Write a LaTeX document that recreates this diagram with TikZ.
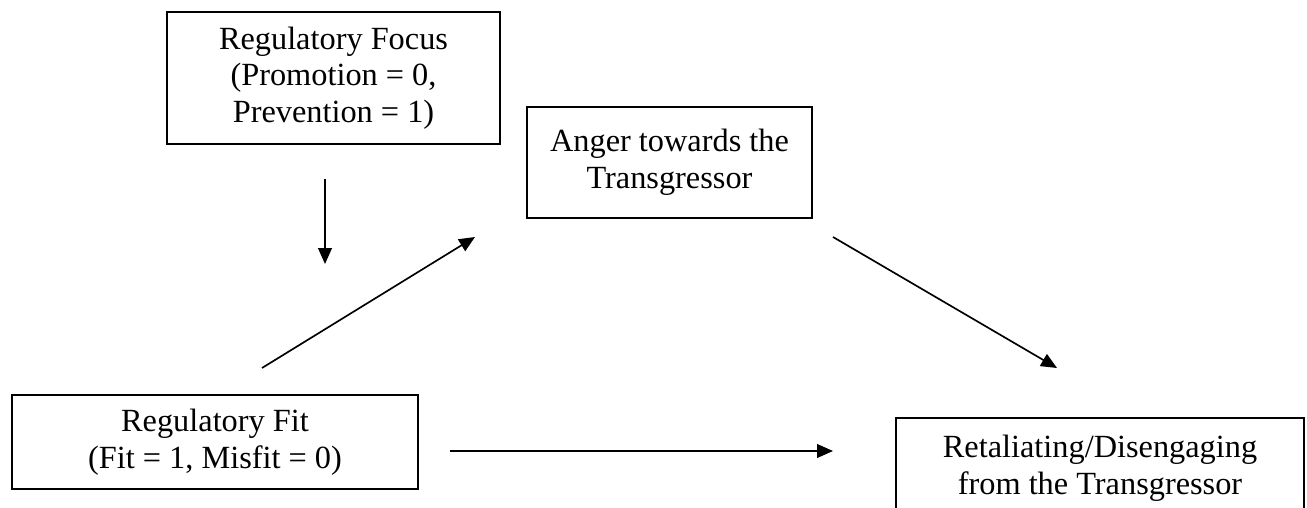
\documentclass[tikz,border=0pt]{standalone}
\usepackage{fontspec}
\setmainfont{Liberation Serif}
\usetikzlibrary{arrows.meta,positioning,calc}

\begin{document}
\begin{tikzpicture}[
  x=0.6pt, y=-0.6pt,
  font=\fontsize{19.4}{22}\selectfont,
  box/.style={draw, line width=1pt, align=center, inner sep=0pt},
  link/.style={->, line width=1pt},
  >={Triangle[length=9.5pt,width=8.2pt]}
]
\useasboundingbox (0,0) rectangle (1307,508);

\node[box, minimum width=333*0.6pt, minimum height=132*0.6pt] (focus) at (333.5,78)
  {Regulatory Focus\\(Promotion = 0,\\Prevention = 1)};
\node[box, minimum width=285*0.6pt, minimum height=111*0.6pt] (anger) at (669.5,162.5)
  {Anger towards the\\Transgressor};
\node[box, minimum width=406*0.6pt, minimum height=94*0.6pt] (fit) at (215,442)
  {Regulatory Fit\\(Fit = 1, Misfit = 0)};
\node[box, minimum width=408*0.6pt, minimum height=100*0.6pt] (retal) at (1100,468)
  {Retaliating/Disengaging\\from the Transgressor};

% free ends of the arrows
\coordinate (modtop) at (325,179);
\coordinate (modtip) at (325,264);
\coordinate (fitout) at (262,368);
\coordinate (angerin) at (475,237);
\coordinate (angerout) at (833,237);
\coordinate (retalin) at (1057,368);
\coordinate (direct) at (450,451);
\coordinate (retaldir) at (833,451);

\draw[link] (modtop) -- (modtip);
\draw[link] (fitout) -- (angerin);
\draw[link] (angerout) -- (retalin);
\draw[link] (direct) -- (retaldir);

\end{tikzpicture}
\end{document}
